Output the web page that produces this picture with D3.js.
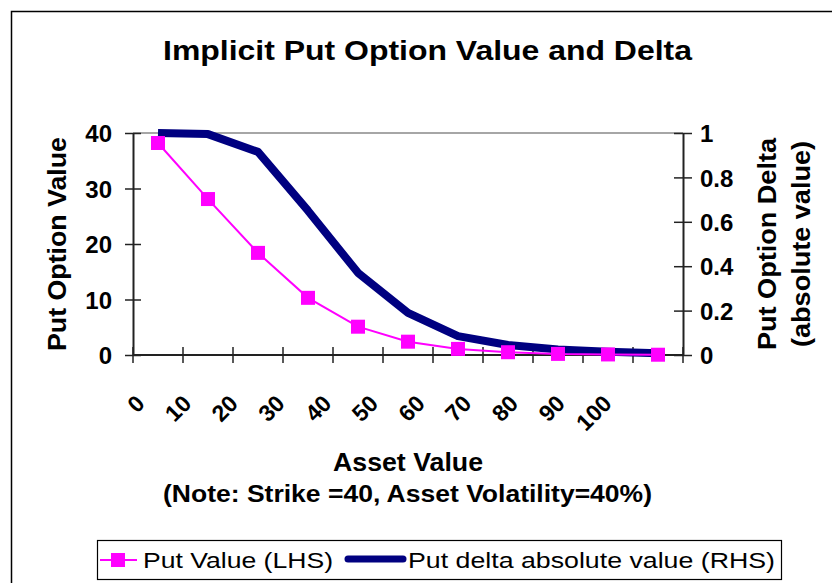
<!DOCTYPE html>
<html>
<head>
<meta charset="utf-8">
<script src="https://cdn.jsdelivr.net/npm/d3@7"></script>
<style>
	body { margin: 0; background: #fff; }
	svg { display: block; font-family: "Liberation Sans", Arial, sans-serif; }
</style>
</head>
<body>
<div id="svg-container"></div>
<script>
// DATA
const assetValues = [0, 10, 20, 30, 40, 50, 60, 70, 80, 90, 100];
const putValue = [38.2, 28.1, 18.4, 10.3, 5.1, 2.4, 1.1, 0.5, 0.2, 0.1, 0.05];
const putDelta = [1.0, 0.995, 0.915, 0.65, 0.37, 0.19, 0.085, 0.045, 0.025, 0.015, 0.008];
const leftTicks = [0, 10, 20, 30, 40];
const rightTicks = [0, 0.2, 0.4, 0.6, 0.8, 1];
const seriesNames = ['Put Value (LHS)', 'Put delta absolute value (RHS)'];

const PINK = '#ff00ff';
const NAVY = '#000080';

// helper: text stretched to the width measured on the reference
const addText = (sel, txt, size, bold, len) => {
	const t = sel.append('text')
		.attr('font-size', size)
		.attr('font-weight', bold ? 'bold' : 'normal')
		.text(txt);
	if (len) t.attr('textLength', len).attr('lengthAdjust', 'spacingAndGlyphs');
	return t;
};

function visualizeData() {
	const w = 832, h = 583;
	const plot = { left: 133, right: 683, top: 133, bottom: 355 };

	const svg = d3.select('#svg-container').append('svg')
		.attr('width', w)
		.attr('height', h);

	// outer frame (runs off the right and bottom edges)
	svg.append('rect')
		.attr('x', 11.5).attr('y', 11.5)
		.attr('width', 900).attr('height', 700)
		.attr('fill', 'none')
		.attr('stroke', '#000')
		.attr('stroke-width', 1.5);

	// title
	addText(svg, 'Implicit Put Option Value and Delta', 27, true, 529)
		.attr('x', 163).attr('y', 60);

	// scales
	const xBand = d3.scaleBand()
		.domain(assetValues)
		.range([plot.left, plot.right]);
	const xc = d => xBand(d) + xBand.bandwidth() / 2;
	const yLeft = d3.scaleLinear().domain([0, 40]).range([plot.bottom, plot.top]);
	const yRight = d3.scaleLinear().domain([0, 1]).range([plot.bottom, plot.top]);
	// Excel lays the rotated labels out a little tighter than the bands
	const xLabel = d3.scalePoint().domain(assetValues).range([146, 613]);

	// plot area border
	svg.append('line')
		.attr('x1', plot.left).attr('x2', plot.right)
		.attr('y1', plot.top).attr('y2', plot.top)
		.attr('stroke', '#888').attr('stroke-width', 1.5);

	// left axis
	const yAxisL = d3.axisLeft(yLeft).tickValues(leftTicks).tickSize(0).tickPadding(21);
	const gL = svg.append('g')
		.attr('transform', `translate(${plot.left},0)`)
		.call(yAxisL);
	gL.select('.domain').attr('stroke', '#222').attr('stroke-width', 2);
	gL.selectAll('.tick text')
		.attr('font-size', 24).attr('font-weight', 'bold')
		.attr('font-family', '"Liberation Sans", Arial, sans-serif')
		.attr('fill', '#000').attr('dy', '0.36em');
	gL.selectAll('.tick').append('line')
		.attr('x1', -8).attr('x2', 8)
		.attr('stroke', '#222').attr('stroke-width', 1.5);

	// right axis
	const yAxisR = d3.axisRight(yRight).tickValues(rightTicks).tickFormat(d3.format('')).tickSize(0).tickPadding(17);
	const gR = svg.append('g')
		.attr('transform', `translate(${plot.right},0)`)
		.call(yAxisR);
	gR.select('.domain').attr('stroke', '#222').attr('stroke-width', 2);
	gR.selectAll('.tick text')
		.attr('font-size', 24).attr('font-weight', 'bold')
		.attr('font-family', '"Liberation Sans", Arial, sans-serif')
		.attr('fill', '#000').attr('dy', '0.36em');
	gR.selectAll('.tick').append('line')
		.attr('x1', -9).attr('x2', 9)
		.attr('stroke', '#222').attr('stroke-width', 1.5);

	// x axis (ticks on band edges, crossing the axis)
	const edges = assetValues.map(d => xBand(d)).concat([plot.right]);
	const gX = svg.append('g');
	gX.append('line')
		.attr('x1', plot.left).attr('x2', plot.right)
		.attr('y1', plot.bottom).attr('y2', plot.bottom)
		.attr('stroke', '#222').attr('stroke-width', 2);
	gX.selectAll('line.tk')
		.data(edges)
		.enter().append('line')
		.attr('class', 'tk')
		.attr('x1', d => d).attr('x2', d => d)
		.attr('y1', plot.bottom - 8).attr('y2', plot.bottom + 8)
		.attr('stroke', '#222').attr('stroke-width', 1.5);
	gX.selectAll('text')
		.data(assetValues)
		.enter().append('text')
		.attr('transform', d => `translate(${xLabel(d)},${plot.bottom + 50}) rotate(-45)`)
		.attr('text-anchor', 'end')
		.attr('font-size', 23).attr('font-weight', 'bold')
		.text(d => d);

	// axis titles
	const midY = (plot.top + plot.bottom) / 2;
	addText(svg, 'Put Option Value', 25, true, 214)
		.attr('transform', `translate(66,${midY + 107}) rotate(-90)`);
	addText(svg, 'Put Option Delta', 25, true, 212)
		.attr('transform', `translate(776,${midY + 106}) rotate(-90)`);
	addText(svg, '(absolute value)', 25, true, 206)
		.attr('transform', `translate(810,${midY + 103}) rotate(-90)`);
	addText(svg, 'Asset Value', 25, true, 150)
		.attr('x', 333).attr('y', 471);
	addText(svg, '(Note: Strike =40, Asset Volatility=40%)', 23, true, 489)
		.attr('x', 163).attr('y', 502);

	// delta line (RHS)
	const deltaLine = d3.line()
		.x((d, i) => xc(assetValues[i]))
		.y(d => yRight(d));
	svg.append('path')
		.datum(putDelta)
		.attr('d', deltaLine)
		.attr('fill', 'none')
		.attr('stroke', NAVY)
		.attr('stroke-width', 8)
		.attr('stroke-linejoin', 'round');

	// put value line (LHS)
	const valueLine = d3.line()
		.x((d, i) => xc(assetValues[i]))
		.y(d => yLeft(d));
	svg.append('path')
		.datum(putValue)
		.attr('d', valueLine)
		.attr('fill', 'none')
		.attr('stroke', PINK)
		.attr('stroke-width', 2);
	const m = 14;
	svg.selectAll('rect.marker')
		.data(putValue)
		.enter().append('rect')
		.attr('class', 'marker')
		.attr('x', (d, i) => xc(assetValues[i]) - m / 2)
		.attr('y', d => yLeft(d) - m / 2)
		.attr('width', m).attr('height', m)
		.attr('fill', PINK);

	// legend
	const lg = svg.append('g');
	lg.append('rect')
		.attr('x', 97.5).attr('y', 540.5)
		.attr('width', 684).attr('height', 39)
		.attr('fill', '#fff')
		.attr('stroke', '#000').attr('stroke-width', 1.2);
	lg.append('line')
		.attr('x1', 100).attr('x2', 137).attr('y1', 560).attr('y2', 560)
		.attr('stroke', PINK).attr('stroke-width', 2);
	lg.append('rect')
		.attr('x', 111).attr('y', 553).attr('width', 14).attr('height', 14)
		.attr('fill', PINK);
	addText(lg, seriesNames[0], 22, false, 190)
		.attr('x', 143).attr('y', 568);
	lg.append('line')
		.attr('x1', 348).attr('x2', 403).attr('y1', 559).attr('y2', 559)
		.attr('stroke', NAVY).attr('stroke-width', 7)
		.attr('stroke-linecap', 'round');
	addText(lg, seriesNames[1], 22, false, 367)
		.attr('x', 408).attr('y', 568);
}

document.addEventListener('DOMContentLoaded', () => {
	visualizeData();
});
</script>
</body>
</html>
